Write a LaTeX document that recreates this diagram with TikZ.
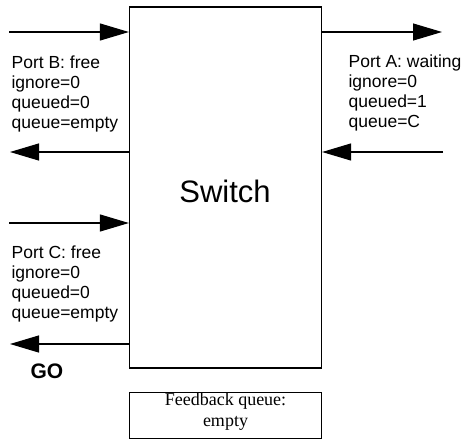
\documentclass[tikz,border=0pt]{standalone}
\usepackage{fontspec}
\setmainfont{Liberation Sans}
\newfontfamily\serifface{Liberation Serif}
\usetikzlibrary{arrows.meta}
\begin{document}
\begin{tikzpicture}[x=1pt,y=-1pt,
  line width=1.2pt,
  sig/.style={-{Triangle[length=29pt,width=17pt]}},
  portlabel/.style={anchor=base west,inner sep=0pt,align=left,
    font=\fontsize{17.5}{20}\selectfont},
  block/.style={draw,inner sep=0pt}]
  \useasboundingbox (0,0) rectangle (466,440);

  % switch body and feedback queue
  \node[block,minimum width=192pt,minimum height=361pt] (sw) at (225.5,187.5) {};
  \node[font=\fontsize{31}{31}\selectfont,anchor=base] (swl) at (225,202) {Switch};
  \node[block,minimum width=192pt,minimum height=46pt,anchor=north] (fb)
    at (225.5,392) {};
  \node[font=\serifface\fontsize{18}{21}\selectfont,align=center,inner sep=0pt,anchor=base]
    (fbl) at (225.5,426) {Feedback queue:\\empty};

  % port B (upper left); multi-line labels sit on their last baseline
  \coordinate (bin) at (9,32);
  \coordinate (bout) at (10,152);
  \draw[sig] (bin) -- (bin -| sw.west);
  \draw[sig] (bout -| sw.west) -- (bout);
  \node[portlabel] (pb) at (11,128) {Port B: free\\ignore=0\\queued=0\\queue=empty};

  % port A (right)
  \coordinate (aout) at (442,32);
  \coordinate (ain) at (443,152);
  \draw[sig] (aout -| sw.east) -- (aout);
  \draw[sig] (ain) -- (ain -| sw.east);
  \node[portlabel] (pa) at (348,127) {Port A: waiting\\ignore=0\\queued=1\\queue=C};

  % port C (lower left)
  \coordinate (cin) at (9,223);
  \coordinate (cout) at (10,344);
  \draw[sig] (cin) -- (cin -| sw.west);
  \draw[sig] (cout -| sw.west) -- (cout);
  \node[portlabel] (pc) at (11,318) {Port C: free\\ignore=0\\queued=0\\queue=empty};
  \node[anchor=base west,inner sep=0pt,font=\bfseries\fontsize{21}{21}\selectfont] (go)
    at (30,378) {GO};
\end{tikzpicture}
\end{document}
